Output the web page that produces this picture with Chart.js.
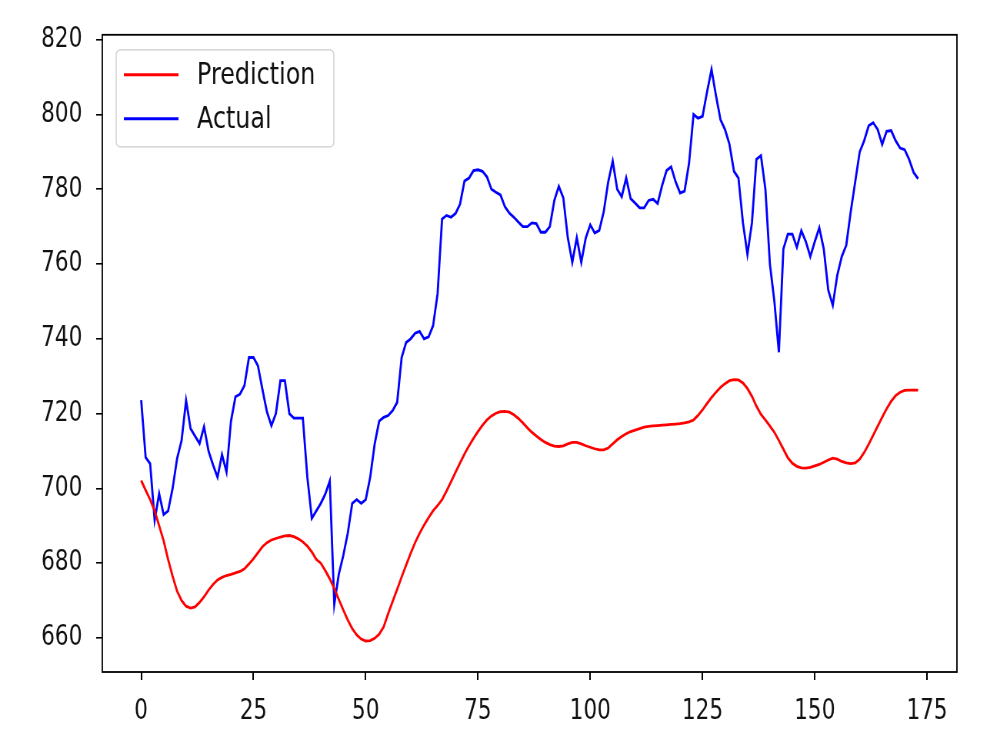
<!DOCTYPE html>
<html>
<head>
<meta charset="utf-8">
<title>Prediction vs Actual</title>
<script src="https://cdn.jsdelivr.net/npm/chart.js@4.4.1/dist/chart.umd.min.js"></script>
<style>
    html, body { margin: 0; padding: 0; background: #ffffff; }
    canvas { display: block; }
</style>
</head>
<body>
<!-- drawn wide then squeezed to 1000px, the source picture has narrow text -->
<canvas id="chart" width="1300" height="750" style="width:1000px;height:750px"></canvas>
<script>
// Colors (matplotlib defaults)
const COLORS = {
    prediction: '#ff0000',
    actual: '#0000ff',
    axis: '#000000',
    text: '#111111',
    legendBorder: '#cccccc'
};

// Tick labels
const X_TICKS = [0, 25, 50, 75, 100, 125, 150, 175];
const Y_TICKS = [660, 680, 700, 720, 740, 760, 780, 800, 820];

// Series values, index 0..173
const predictionValues = [
    702.1, 699.5, 697.0, 694.0, 690.0, 686.0, 681.0, 676.5, 672.5, 670.0,
    668.5, 668.0, 668.3, 669.5, 671.0, 672.8, 674.3, 675.5, 676.2, 676.7,
    677.0, 677.4, 677.8, 678.5, 679.8, 681.2, 682.8, 684.4, 685.5, 686.2,
    686.6, 687.0, 687.3, 687.4, 687.1, 686.5, 685.7, 684.6, 683.0, 681.0,
    680.0, 678.0, 675.8, 673.2, 670.3, 667.5, 664.8, 662.5, 660.8, 659.7,
    659.2, 659.3, 659.9, 661.0, 663.0, 666.5, 669.8, 673.0, 676.3, 679.5,
    682.6, 685.5, 688.0, 690.2, 692.2, 694.0, 695.4, 697.0, 699.3, 701.8,
    704.3, 706.8, 709.2, 711.4, 713.4, 715.2, 716.9, 718.3, 719.4, 720.1,
    720.5, 720.6, 720.4, 719.7, 718.7, 717.5, 716.2, 715.0, 714.0, 713.1,
    712.3, 711.7, 711.3, 711.2, 711.4, 711.9, 712.3, 712.3, 711.9, 711.4,
    711.0, 710.6, 710.3, 710.3, 710.8, 711.9, 713.0, 713.9, 714.6, 715.2,
    715.6, 716.0, 716.4, 716.6, 716.7, 716.8, 716.9, 717.0, 717.1, 717.2,
    717.3, 717.5, 717.8, 718.3, 719.5, 721.0, 722.7, 724.3, 725.7, 727.0,
    728.0, 728.8, 729.1, 729.0, 728.2, 726.7, 724.6, 722.0, 719.8, 718.3,
    716.7, 715.0, 712.8, 710.5, 708.2, 706.7, 705.9, 705.5, 705.4, 705.6,
    706.0, 706.4, 707.0, 707.6, 708.1, 707.8, 707.2, 706.8, 706.6, 706.8,
    707.8, 709.6, 711.8, 714.2, 716.6, 719.0, 721.3, 723.3, 724.8, 725.7,
    726.2, 726.3, 726.3, 726.3
];

const actualValues = [
    723.6, 708.3, 706.6, 691.5, 698.6, 693.0, 694.0, 700.0, 708.0, 712.8,
    723.5, 716.0, 714.0, 712.0, 716.5, 710.0, 706.3, 703.0, 709.0, 704.4,
    718.0, 724.5, 725.2, 727.5, 735.0, 735.0, 732.8, 726.5, 720.5, 716.8,
    720.0, 728.8, 728.8, 720.0, 718.8, 718.8, 718.8, 703.0, 692.0, 694.0,
    696.0, 698.5, 702.0, 669.0, 677.0, 682.0, 688.0, 696.0, 697.0, 696.0,
    697.0, 703.0, 711.9, 718.0, 719.0, 719.5, 720.8, 723.0, 735.0, 739.0,
    740.0, 741.5, 742.0, 740.0, 740.5, 743.5, 752.0, 772.0, 773.0, 772.5,
    773.5, 776.0, 782.2, 783.0, 785.0, 785.2, 784.8, 783.3, 780.0, 779.2,
    778.5, 775.3, 773.6, 772.5, 771.2, 770.0, 770.0, 771.0, 770.8, 768.5,
    768.5, 770.0, 777.0, 780.8, 777.7, 767.0, 760.5, 767.0, 760.5, 767.0,
    770.5, 768.3, 769.0, 774.0, 782.0, 787.5, 780.0, 778.0, 783.0, 777.5,
    776.3, 775.0, 775.0, 777.0, 777.3, 776.2, 781.0, 785.0, 786.0, 782.0,
    779.0, 779.5, 787.0, 800.0, 799.0, 799.5, 806.0, 812.0, 805.0, 798.6,
    796.0, 792.0, 784.8, 783.0, 771.0, 762.6, 771.0, 788.0, 789.0, 780.0,
    760.0, 750.0, 736.4, 764.0, 768.0, 768.0, 764.5, 768.9, 766.0, 762.0,
    766.0, 769.7, 764.0, 753.0, 749.0, 757.0, 762.0, 765.0, 774.0, 782.0,
    790.0, 793.0, 797.0, 797.8, 796.0, 792.0, 795.5, 795.7, 793.0, 791.0,
    790.6, 788.0, 784.5, 782.8
];

// Global Chart default config
Chart.defaults.font.family = "'DejaVu Sans', sans-serif";
Chart.defaults.color = COLORS.text;

/**
 * Matplotlib style frame round the plot area
 */
const framePlugin = {
    id: 'frame',
    afterDatasetsDraw(chart) {
        const { ctx, chartArea: a } = chart;
        ctx.save();
        ctx.strokeStyle = COLORS.axis;
        ctx.lineWidth = 1.8;
        ctx.strokeRect(a.left, a.top, a.right - a.left, a.bottom - a.top);
        ctx.restore();
    }
};

/**
 * Legend box in the upper left corner of the plot area
 */
const boxLegendPlugin = {
    id: 'boxLegend',
    afterDraw(chart) {
        const { ctx, chartArea: a } = chart;
        const x = a.left + 18, y = a.top + 15;
        const w = 283, h = 97, r = 5;

        ctx.save();
        ctx.beginPath();
        ctx.roundRect(x, y, w, h, r);
        ctx.fillStyle = 'rgba(255, 255, 255, 0.8)';
        ctx.fill();
        ctx.strokeStyle = COLORS.legendBorder;
        ctx.lineWidth = 1.3;
        ctx.stroke();

        ctx.font = "31px 'DejaVu Sans', sans-serif";
        ctx.textBaseline = 'middle';
        chart.data.datasets.forEach((ds, i) => {
            const rowY = y + 25 + i * 44;
            ctx.beginPath();
            ctx.moveTo(x + 10, rowY);
            ctx.lineTo(x + 81, rowY);
            ctx.strokeStyle = ds.borderColor;
            ctx.lineWidth = 3;
            ctx.stroke();
            ctx.fillStyle = COLORS.text;
            ctx.fillText(ds.label, x + 105, rowY + 1);
        });
        ctx.restore();
    }
};

function initChart() {
    const ctx = document.getElementById('chart').getContext('2d');
    const labels = actualValues.map((v, i) => i);

    new Chart(ctx, {
        type: 'line',
        data: {
            labels: labels,
            datasets: [
                {
                    label: 'Prediction',
                    data: predictionValues.map((v, i) => ({ x: i, y: v })),
                    borderColor: COLORS.prediction,
                    borderWidth: 2.8,
                    pointRadius: 0,
                    tension: 0,
                    fill: false
                },
                {
                    label: 'Actual',
                    data: actualValues.map((v, i) => ({ x: i, y: v })),
                    borderColor: COLORS.actual,
                    borderWidth: 2.8,
                    pointRadius: 0,
                    tension: 0,
                    fill: false
                }
            ]
        },
        options: {
            responsive: false,
            animation: false,
            devicePixelRatio: 1,
            layout: { padding: { left: 0, right: 56, top: 33, bottom: 0 } },
            plugins: {
                legend: { display: false },
                tooltip: { enabled: false }
            },
            scales: {
                x: {
                    type: 'linear',
                    min: -8.65,
                    max: 181.65,
                    afterBuildTicks: (s) => { s.ticks = X_TICKS.map(v => ({ value: v })); },
                    afterFit: (s) => { s.height = 78; },
                    border: { display: false },
                    grid: {
                        drawOnChartArea: false,
                        drawTicks: true,
                        tickLength: 8,
                        lineWidth: 2,
                        color: COLORS.axis
                    },
                    ticks: {
                        autoSkip: false,
                        maxRotation: 0,
                        padding: 15,
                        color: COLORS.text,
                        font: { size: 28 }
                    }
                },
                y: {
                    min: 650.9,
                    max: 821.3,
                    afterBuildTicks: (s) => { s.ticks = Y_TICKS.map(v => ({ value: v })); },
                    afterFit: (s) => { s.width = 133; },
                    border: { display: false },
                    grid: {
                        drawOnChartArea: false,
                        drawTicks: true,
                        tickLength: 8,
                        lineWidth: 1.6,
                        color: COLORS.axis
                    },
                    ticks: {
                        autoSkip: false,
                        padding: 18,
                        color: COLORS.text,
                        font: { size: 28 }
                    }
                }
            }
        },
        plugins: [framePlugin, boxLegendPlugin]
    });
}

document.addEventListener('DOMContentLoaded', initChart);
</script>
</body>
</html>
